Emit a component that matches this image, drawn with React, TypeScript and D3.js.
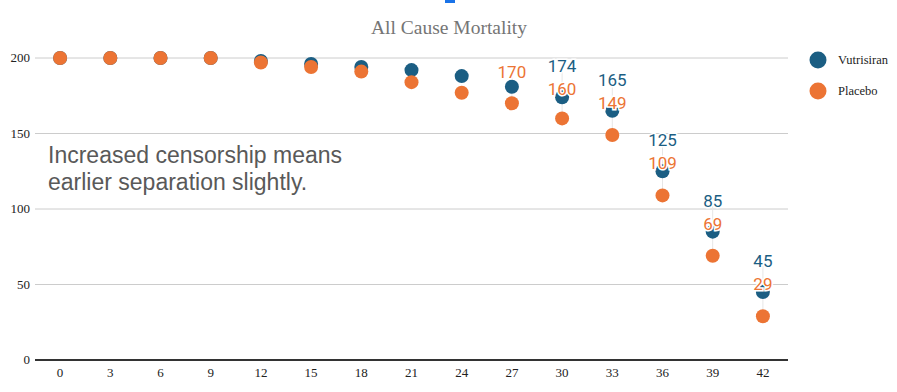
import React from 'react'
import * as d3 from 'd3'

const months = ['0', '3', '6', '9', '12', '15', '18', '21', '24', '27', '30', '33', '36', '39', '42']
const vutrisiran = [200, 200, 200, 200, 198, 196, 194, 192, 188, 181, 174, 165, 125, 85, 45]
const placebo = [200, 200, 200, 200, 197, 194, 191, 184, 177, 170, 160, 149, 109, 69, 29]
// which points carry a value label
const vutLabelled = [false, false, false, false, false, false, false, false, false, false, true, true, true, true, true]
const plaLabelled = [false, false, false, false, false, false, false, false, false, true, true, true, true, true, true]
const yTicks = [0, 50, 100, 150, 200]

const BLUE = '#1b5e83'
const ORANGE = '#ec7434'
const W = 897
const H = 392
const margin = { top: 58, right: 109, bottom: 32, left: 35 }

export default function App () {
  const x = d3.scaleBand()
    .domain(months)
    .range([margin.left, W - margin.right])
    .padding(0)
  const y = d3.scaleLinear()
    .domain([0, 200])
    .range([H - margin.bottom, margin.top])

  const cx = (m: string) => (x(m) as number) + x.bandwidth() / 2
  const serif = '"Liberation Serif", "Times New Roman", serif'
  const sans = 'Roboto, "Noto Sans", sans-serif'

  return (
    <svg width={W} height={H} style={{ position: 'absolute', left: 0, top: 0, background: '#fff' }}>
      <rect x={445} y={0} width={10} height={3} fill='#1a73e8' />

      <text x={449} y={34} textAnchor='middle' fontFamily={serif} fontSize={19.5} fill='#757575'>
        All Cause Mortality
      </text>

      {/* grid + y axis */}
      {yTicks.map(t => (
        <g key={t}>
          {t > 0 && (
            <line x1={margin.left} x2={W - margin.right} y1={y(t)} y2={y(t)} stroke='#cccccc' strokeWidth={1} />
          )}
          <text x={30} y={y(t) + 4} textAnchor='end' fontFamily={serif} fontSize={13} fill='#222'>{t}</text>
        </g>
      ))}
      <line x1={margin.left} x2={W - margin.right} y1={y(0)} y2={y(0)} stroke='#333' strokeWidth={2} />

      {/* x axis labels */}
      {months.map(m => (
        <text key={m} x={cx(m)} y={377} textAnchor='middle' fontFamily={serif} fontSize={13} fill='#222'>{m}</text>
      ))}

      {/* faint leader lines */}
      {months.map((m, i) => (vutLabelled[i] || plaLabelled[i]) && (
        <line key={'l' + m} x1={cx(m)} x2={cx(m)}
          y1={y(vutrisiran[i]) - (vutLabelled[i] ? 30 : 15)} y2={y(placebo[i])}
          stroke='#e6e6e6' strokeWidth={1} />
      ))}

      {/* points */}
      {months.map((m, i) => (
        <circle key={'v' + m} cx={cx(m)} cy={y(vutrisiran[i])} r={7} fill={BLUE} />
      ))}
      {months.map((m, i) => (
        <circle key={'p' + m} cx={cx(m)} cy={y(placebo[i])} r={7} fill={ORANGE} />
      ))}

      {/* value labels stacked above the Vutrisiran point */}
      {months.map((m, i) => {
        const base = y(vutrisiran[i])
        const plaOff = vutLabelled[i] ? -8 : -15
        return (
          <g key={'t' + m} fontFamily={sans} fontSize={17} textAnchor='middle'
            stroke='#fff' strokeWidth={3} style={{ paintOrder: 'stroke' }}>
            {plaLabelled[i] && (
              <text x={cx(m)} y={base + plaOff + 6} fill={ORANGE}>{placebo[i]}</text>
            )}
            {vutLabelled[i] && (
              <text x={cx(m)} y={base - 31 + 6} fill={BLUE}>{vutrisiran[i]}</text>
            )}
          </g>
        )
      })}

      {/* annotation */}
      <text fontFamily='"Liberation Sans", Arial, sans-serif' fontSize={23} fill='#595959'>
        <tspan x={48} y={163}>Increased censorship means</tspan>
        <tspan x={48} y={190}>earlier separation slightly.</tspan>
      </text>

      {/* legend */}
      <circle cx={818} cy={60} r={8.5} fill={BLUE} />
      <text x={838} y={64} fontFamily={serif} fontSize={12.5} fill='#222'>Vutrisiran</text>
      <circle cx={818} cy={91} r={8.5} fill={ORANGE} />
      <text x={838} y={95} fontFamily={serif} fontSize={12.5} fill='#222'>Placebo</text>
    </svg>
  )
}
